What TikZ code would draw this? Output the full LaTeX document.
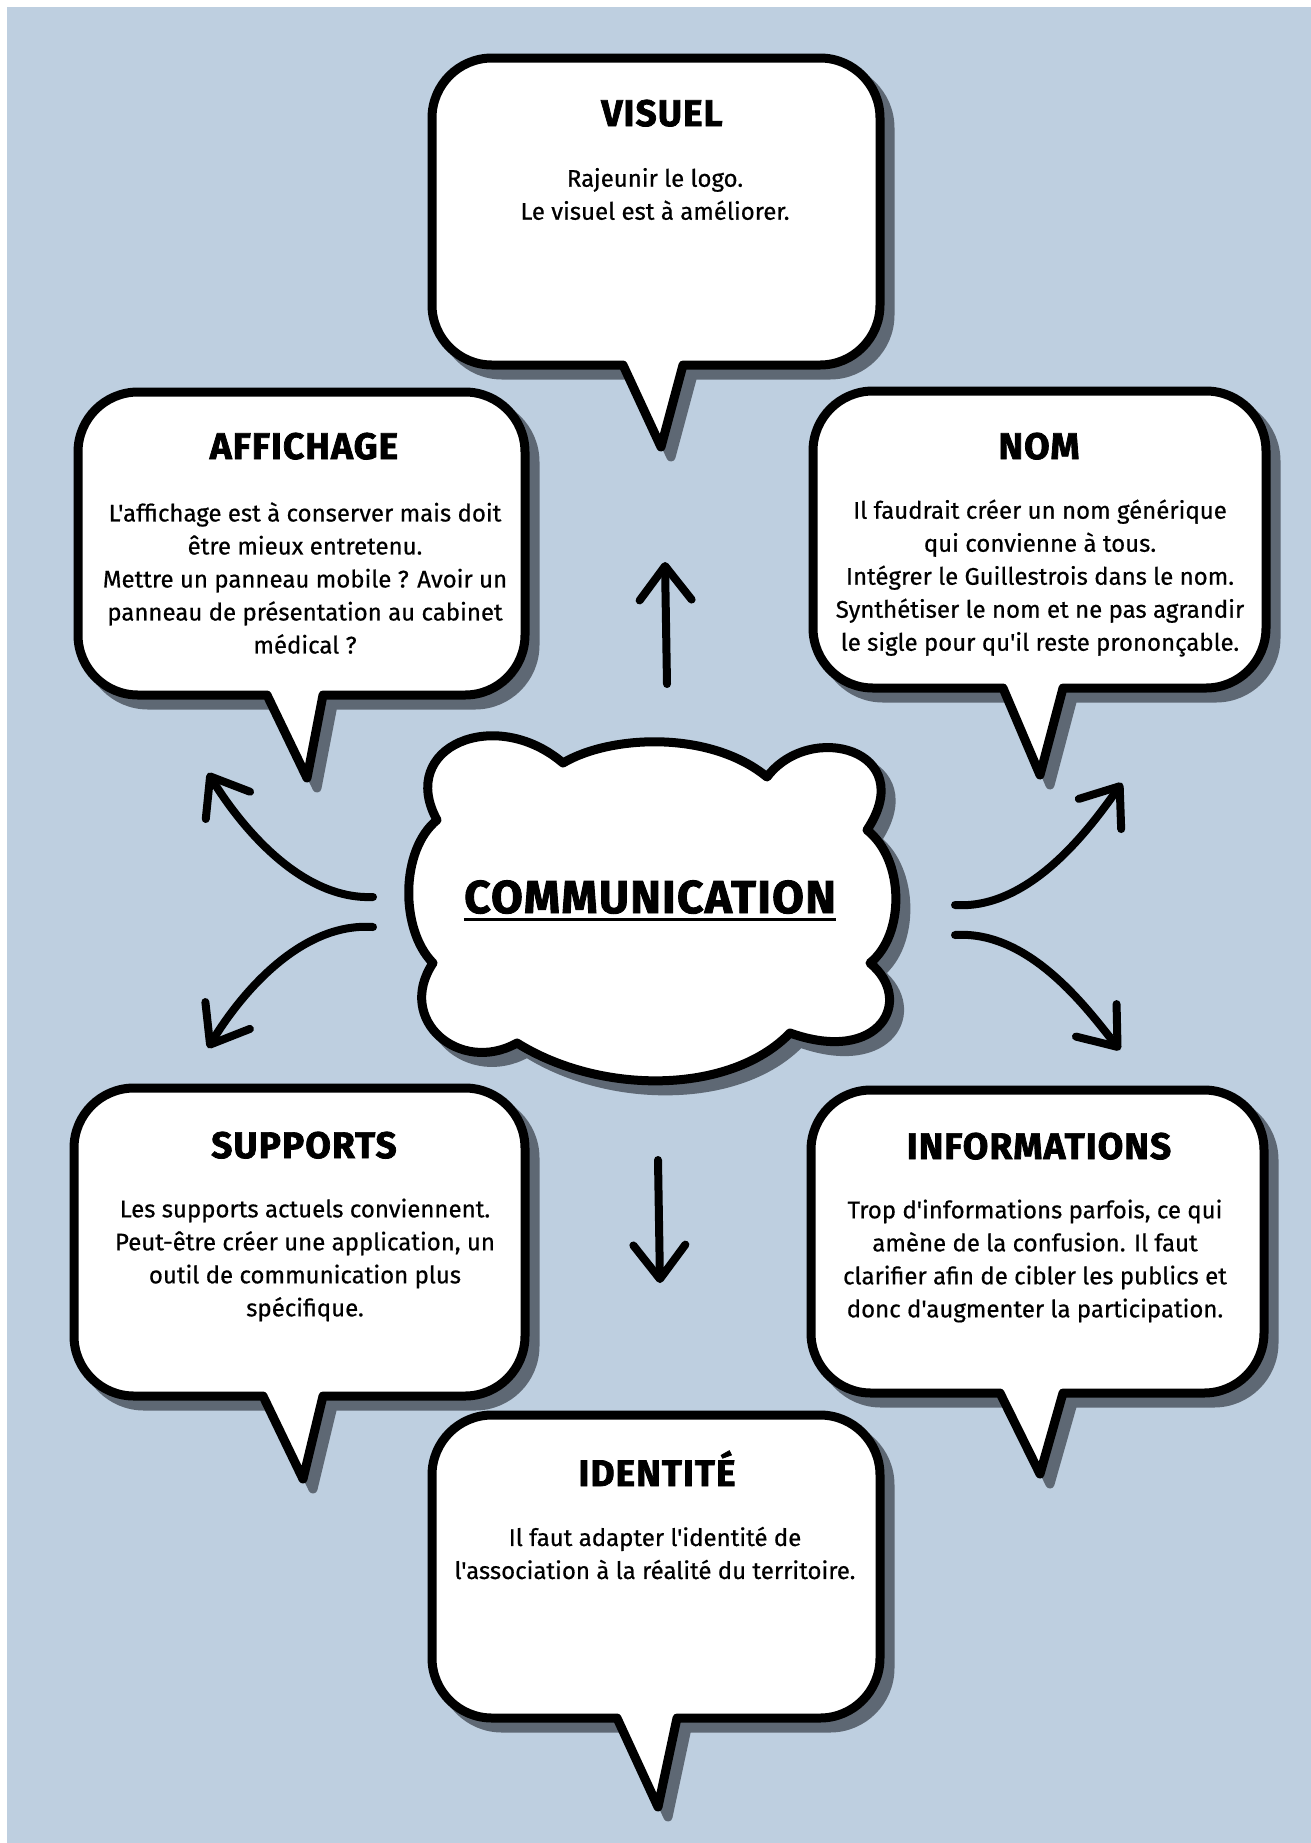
\documentclass[tikz,border=0pt]{standalone}
\usepackage{fontspec}
\setmainfont{Fira Sans}
\newfontfamily\titlefontX{Fira Sans}[BoldFeatures={FakeBold=2,LetterSpace=3}]
\newcommand\titlefont{\titlefontX\bfseries}
\newfontfamily\bodyfont{Fira Sans}[Ligatures=TeXOff,FakeBold=0.6]
\usetikzlibrary{arrows.meta}
\definecolor{bgblue}{RGB}{190,207,224}
\definecolor{shadowgray}{RGB}{94,104,116}
\tikzset{
  shadowshape/.style={fill=shadowgray, draw=shadowgray, line width=4.5pt, line join=round},
  bubbleshape/.style={fill=white, draw=black, line width=4.5pt, line join=round},
  titletext/.style={font=\titlefont\fontsize{18.5}{22}\selectfont, anchor=base, inner sep=0pt},
  bodytext/.style={font=\bodyfont\fontsize{12}{16.5}\selectfont, align=center, inner sep=0pt},
  arr/.style={line width=4pt, line cap=round, -{Straight Barb[length=17pt,width=26pt,round]}},
}
% #1 left, #2 top, #3 right, #4 bottom, #5 tail base left, #6 tail base right, #7 #8 tail tip
\newcommand\speechbubble[8]{%
  \filldraw[shadowshape, shift={(10,10)}] (#1,#2+60) arc[start angle=180,end angle=270,radius=60]
    -- (#3-60,#2) arc[start angle=270,end angle=360,radius=60]
    -- (#3,#4-60) arc[start angle=0,end angle=90,radius=60]
    -- (#6,#4) -- (#7,#8) -- (#5,#4)
    -- (#1+60,#4) arc[start angle=90,end angle=180,radius=60] -- cycle;
  \filldraw[bubbleshape] (#1,#2+60) arc[start angle=180,end angle=270,radius=60]
    -- (#3-60,#2) arc[start angle=270,end angle=360,radius=60]
    -- (#3,#4-60) arc[start angle=0,end angle=90,radius=60]
    -- (#6,#4) -- (#7,#8) -- (#5,#4)
    -- (#1+60,#4) arc[start angle=90,end angle=180,radius=60] -- cycle;
}
\newcommand\cloudpath{(437,820) .. controls (397,747) and (495,705) .. (563,763)
  .. controls (610,735) and (710,730) .. (767,777)
  .. controls (810,720) and (920,750) .. (867,830)
  .. controls (905,860) and (905,935) .. (870,963)
  .. controls (915,1000) and (880,1065) .. (790,1033)
  .. controls (730,1095) and (600,1095) .. (517,1043)
  .. controls (460,1075) and (395,1020) .. (433,963)
  .. controls (400,930) and (400,850) .. (437,820) -- cycle}
\begin{document}
\begin{tikzpicture}[x=0.5pt,y=-0.5pt]
\useasboundingbox (0,0) rectangle (1311,1843);
\fill[white] (0,0) rectangle (1311,1843);
\fill[bgblue] (7,7) rectangle (1311,1843);

% bubbles
\speechbubble{432}{58}{880}{365}{623}{683}{661}{447}
\speechbubble{78}{392}{525}{695}{267}{323}{307}{778}
\speechbubble{813}{391}{1266}{688}{1003}{1063}{1040}{775}
\speechbubble{74}{1088}{525}{1396}{263}{323}{303}{1479}
\speechbubble{811}{1090}{1264}{1393}{1000}{1063}{1040}{1474}
\speechbubble{432}{1415}{880}{1718}{617}{677}{658}{1807}

% cloud
\filldraw[shadowshape, shift={(10,10)}] \cloudpath;
\filldraw[bubbleshape] \cloudpath;

% titles
\node[titletext] (tVisuel) at (662,126) {VISUEL};
\node[titletext] (tAffichage) at (304,459) {AFFICHAGE};
\node[titletext] (tNom) at (1039,459) {NOM};
\node[titletext] (tSupports) at (304,1158) {SUPPORTS};
\node[titletext] (tInfo) at (1039,1159) {INFORMATIONS};
\node[titletext] (tIdent) at (657,1486) {IDENTITÉ};

\node[titletext, font=\titlefont\fontsize{23}{28}\selectfont] (comm) at (650,913) {COMMUNICATION};
\draw[line width=1.5pt] ([yshift=-3pt]comm.base west) -- ([yshift=-3pt]comm.base east);

% body texts
\node[bodytext] (bVisuel) at (655,194) {Rajeunir le logo.\\Le visuel est à améliorer.};
\node[bodytext] (bAffichage) at (305,578) {L'affichage est à conserver mais doit\\être mieux entretenu.\\Mettre un panneau mobile ? Avoir un\\panneau de présentation au cabinet\\médical ?};
\node[bodytext] (bNom) at (1040,578) {Il faudrait créer un nom générique\\qui convienne à tous.\\Intégrer le Guillestrois dans le nom.\\Synthétiser le nom et ne pas agrandir\\le sigle pour qu'il reste prononçable.};
\node[bodytext] (bSupports) at (305,1260) {Les supports actuels conviennent.\\Peut-être créer une application, un\\outil de communication plus\\spécifique.};
\node[bodytext] (bInfo) at (1035,1261) {Trop d'informations parfois, ce qui\\amène de la confusion. Il faut\\clarifier afin de cibler les publics et\\donc d'augmenter la participation.};
\node[bodytext] (bIdent) at (655,1553) {Il faut adapter l'identité de\\l'association à la réalité du territoire.};

% arrows
\coordinate (upS) at (667,684); \coordinate (upE) at (665,562);
\coordinate (dnS) at (658,1160); \coordinate (dnE) at (660,1283);
\coordinate (ulS) at (373,897); \coordinate (ulE) at (208,773);
\coordinate (llS) at (373,927); \coordinate (llE) at (208,1048);
\coordinate (urS) at (955,905); \coordinate (urE) at (1122,783);
\coordinate (lrS) at (955,935); \coordinate (lrE) at (1120,1050);
\draw[arr] (upS) -- (upE);
\draw[arr] (dnS) -- (dnE);
\draw[arr] (ulS) .. controls (300,900) and (240,825) .. (ulE);
\draw[arr] (llS) .. controls (300,922) and (240,995) .. (llE);
\draw[arr] (urS) .. controls (1030,910) and (1090,828) .. (urE);
\draw[arr] (lrS) .. controls (1030,930) and (1088,1010) .. (lrE);
\end{tikzpicture}
\end{document}
